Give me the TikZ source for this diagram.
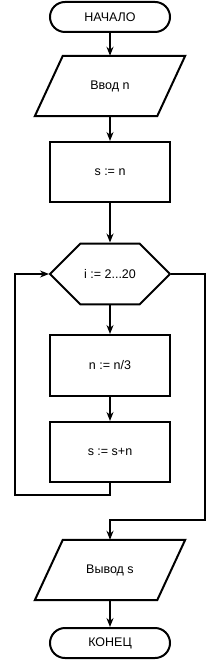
\documentclass[tikz,border=0pt]{standalone}
\usepackage{fontspec}
\setmainfont{Liberation Sans}
\usetikzlibrary{shapes.misc,arrows.meta,calc}

\begin{document}
\begin{tikzpicture}[x=1pt,y=-1pt,
  every node/.style={font=\fontsize{12.5}{14}\selectfont},
  blk/.style={draw,line width=2pt,minimum width=120pt,minimum height=60pt,inner sep=0pt},
  term/.style={blk,rounded corners=15pt,minimum height=30pt},
  io/.style={minimum width=122pt,minimum height=60pt,inner sep=0pt},
  cycl/.style={blk,chamfered rectangle,chamfered rectangle xsep=30pt,chamfered rectangle ysep=30pt},
  line/.style={line width=2pt},
  arr/.style={line,-{Stealth[length=9pt,width=7pt,inset=3pt]}}]
\useasboundingbox (0,0) rectangle (220,660);
\node[term] (start) at (110,17) {НАЧАЛО};
\node[io] (inp) at (110,86) {Ввод n};
\node[blk] (init) at (110,172) {s := n};
\node[cycl] (loop) at (110,274) {i := 2...20};
\node[blk,minimum height=61pt] (div) at (110,365.5) {n := n/3};
\node[blk] (add) at (110,452) {s := s+n};
\node[io] (outp) at (110,570) {Вывод s};
\node[term] (stop) at (110,643) {КОНЕЦ};
% parallelograms
\foreach \n in {inp,outp}
  \draw[line] ($(\n.north west)+(14,0)$) -- ($(\n.north east)+(14,0)$)
    -- ($(\n.south east)+(-14,0)$) -- ($(\n.south west)+(-14,0)$) -- cycle;
\coordinate (back) at (15,495);
\coordinate (exit) at (205,520);
\draw[arr] (start) -- (inp);
\draw[arr] (inp) -- (init);
\draw[arr] (init) -- (loop);
\draw[arr] (loop) -- (div);
\draw[arr] (div) -- (add);
\draw[arr] (add.south) |- (back) |- (loop.west);
\draw[arr] (loop.east) -| (exit) -| (outp.north);
\draw[arr] (outp) -- (stop);
\end{tikzpicture}
\end{document}
